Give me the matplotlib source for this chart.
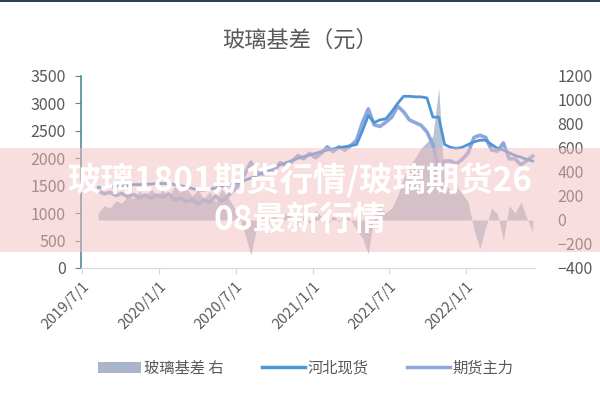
import numpy as np
import pandas as pd
import matplotlib
matplotlib.use('Agg')
import matplotlib.pyplot as plt
from matplotlib.patches import Rectangle, Patch

plt.rcParams['font.family'] = ['Noto Sans CJK SC', 'DejaVu Sans']

# 数据（双周）
dates = pd.date_range('2019-08-08', periods=75, freq='14D')

spot = [1470, 1470, 1480, 1480, 1500, 1500, 1520, 1520, 1530, 1530,
        1540, 1540, 1540, 1520, 1500, 1480, 1450, 1420, 1420, 1440,
        1460, 1480, 1500, 1530, 1560, 1600, 1640, 1690, 1740, 1780,
        1830, 1880, 1920, 1960, 2000, 2030, 2060, 2090, 2120, 2150,
        2170, 2190, 2210, 2230, 2250, 2500, 2780, 2650, 2700, 2720,
        2850, 3000, 3130, 3130, 3120, 3120, 3100, 2750, 2750, 2250,
        2200, 2180, 2200, 2250, 2300, 2330, 2330, 2250, 2180, 2150,
        2100, 2050, 2020, 1980, 1950]

futures = [1410, 1350, 1380, 1320, 1360, 1300, 1340, 1280, 1330, 1270,
           1330, 1290, 1350, 1240, 1270, 1210, 1250, 1170, 1240, 1200,
           1310, 1220, 1300, 1410, 1520, 1720, 1930, 1750, 1710, 1800,
           1780, 1920, 1860, 1940, 2050, 1990, 2090, 2010, 2090, 2210,
           2120, 2210, 2150, 2230, 2330, 2650, 2900, 2610, 2580, 2660,
           2750, 2950, 2850, 2700, 2650, 2600, 2480, 2250, 1800, 1950,
           1950, 1900, 1980, 2100, 2380, 2420, 2380, 2150, 2130, 2280,
           1990, 1990, 1880, 1960, 2040]

basis = [60, 120, 100, 160, 140, 200, 180, 240, 200, 260,
         210, 250, 190, 280, 230, 270, 200, 250, 180, 240,
         150, 260, 200, 120, 40, -120, -290, -60, 30, -20,
         50, -40, 60, 20, -50, 40, -30, 80, 30, -60,
         50, -20, 60, 0, -80, -150, -280, 40, 120, 60,
         100, 200, 350, 450, 520, 600, 650, 700, 1100, 300,
         250, 280, 220, 150, -80, -240, -60, 100, 50, -170,
         120, 60, 150, 20, -100]

tick_dates = pd.to_datetime(['2019-07-01', '2020-01-01', '2020-07-01',
                             '2021-01-01', '2021-07-01', '2022-01-01'])
tick_labels = ['2019/7/1', '2020/1/1', '2020/7/1', '2021/1/1', '2021/7/1', '2022/1/1']

label_color = '#595959'

fig = plt.figure(figsize=(6, 4), dpi=100)
ax = fig.add_axes([0.135, 0.33, 0.757, 0.48])
ax2 = ax.twinx()

# 基差面积（右轴）
ax2.fill_between(dates, 0, basis, color='#A9B5CA', alpha=0.8, linewidth=0)
ax2.set_ylim(-400, 1200)
ax2.set_yticks(np.arange(-400, 1201, 200))

# 现货与期货（左轴）
ax.plot(dates, futures, color='#8FA8DC', linewidth=2.6, label='期货主力')
ax.plot(dates, spot, color='#4F95D6', linewidth=2.0, label='河北现货')
ax.set_ylim(0, 3500)
ax.set_yticks(np.arange(0, 3501, 500))
ax.set_zorder(ax2.get_zorder() + 1)
ax.patch.set_visible(False)

ax.set_xlim(pd.Timestamp('2019-06-28'), pd.Timestamp('2022-06-15'))
ax.set_xticks(tick_dates)
ax.set_xticklabels(tick_labels, rotation=45, ha='right', rotation_mode='anchor')

for s in ['top', 'right']:
    ax.spines[s].set_visible(False)
    ax2.spines[s].set_visible(False)
ax2.spines['left'].set_visible(False)
ax2.spines['bottom'].set_visible(False)
ax.spines['left'].set_color('#4C8C9A')
ax.spines['left'].set_linewidth(1.2)
ax.spines['bottom'].set_color('#D9D9D9')

ax.tick_params(axis='y', colors='#4C8C9A', length=4, labelsize=11.5, labelcolor=label_color, pad=7)
ax.tick_params(axis='x', colors='#D9D9D9', length=4, labelsize=10.5, labelcolor=label_color, pad=4)
ax2.tick_params(axis='y', length=0, labelsize=11.5, labelcolor=label_color, pad=16)

fig.text(0.5, 0.9, '玻璃基差（元）', ha='center', va='center', fontsize=16, color=label_color)

handles = [Patch(facecolor='#A9B5CA', edgecolor='none'),
           plt.Line2D([], [], color='#4F95D6', linewidth=2.5),
           plt.Line2D([], [], color='#8FA8DC', linewidth=2.5)]
fig.legend(handles, ['玻璃基差 右', '河北现货', '期货主力'], loc='center', ncol=3,
           bbox_to_anchor=(0.51, 0.08), frameon=False, fontsize=11, handlelength=2.8,
           handletextpad=0.2, columnspacing=2.5, labelcolor=label_color)

# 顶部深色边线
fig.patches.append(Rectangle((0, 0.995), 1, 0.005, transform=fig.transFigure,
                             facecolor='#2F3E50', edgecolor='none', zorder=10))

# 粉色横幅与标题水印
fig.patches.append(Rectangle((0, 0.37), 1, 0.26, transform=fig.transFigure,
                             facecolor='#F3BEBE', edgecolor='none', alpha=0.5, zorder=10))
fig.text(0.5, 0.5, '玻璃1801期货行情/玻璃期货26\n08最新行情', ha='center', va='center',
         fontsize=24, fontweight='bold', color='white', zorder=11,
         family=['Noto Sans CJK SC', 'DejaVu Sans'])

plt.savefig('out.png', dpi=100)
